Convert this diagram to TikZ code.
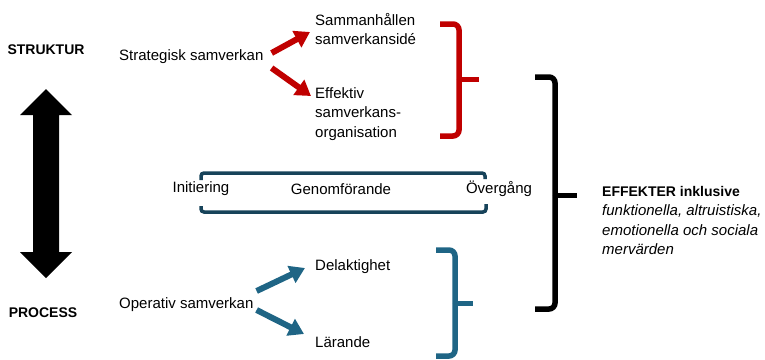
\documentclass[tikz,border=0pt]{standalone}
\usepackage{fontspec}
\setmainfont{Liberation Sans}
\usepackage{xcolor}
\usepackage{tikz}
\usetikzlibrary{arrows.meta}
\definecolor{ink}{HTML}{000000}
\definecolor{red}{HTML}{C00000}
\definecolor{teal}{HTML}{1F6585}
\definecolor{navy}{HTML}{17435A}
\tikzset{
  lbl/.style={text=ink, font=\fontsize{15}{19.5}\selectfont, inner sep=0pt, anchor=west, align=left},
  head/.style={text=ink, font=\fontsize{14}{18}\selectfont\bfseries, inner sep=0pt},
  rarrow/.style={draw=red, line width=6pt, -{Triangle[width=18pt,length=15pt]}},
  tarrow/.style={draw=teal, line width=6pt, -{Triangle[width=18pt,length=15pt]}},
  bigarrow/.style={fill=ink},
  rbrace/.style={draw=red, line width=5.5pt, rounded corners=6pt},
  tbrace/.style={draw=teal, line width=5.5pt, rounded corners=6pt},
  kbrace/.style={draw=ink, line width=5.5pt, rounded corners=6pt},
  phase/.style={draw=navy, line width=3.5pt, rounded corners=3pt}
}
\begin{document}
\begin{tikzpicture}[x=1pt, y=-1pt]
  \useasboundingbox (0,0) rectangle (765,359);

  % levels
  \node[head] (struktur) at (46,50) {STRUKTUR};
  \node[head] (process) at (43,313) {PROCESS};
  \fill[bigarrow] (46,89) -- (72,115) -- (59,115) -- (59,252) -- (72,252) -- (46,278)
    -- (20,252) -- (33,252) -- (33,115) -- (20,115) -- cycle;

  % strategic side
  \node[lbl] (strat) at (119,57) {Strategisk samverkan};
  \node[lbl] (samman) at (315,29) {Sammanhållen\\samverkansidé};
  \node[lbl] (effekt) at (315,114) {Effektiv\\samverkans-\\organisation};
  \draw[rarrow] ([xshift=8pt,yshift=4pt]strat.east) -- ([xshift=-5pt,yshift=-3pt]samman.west);
  \draw[rarrow] ([xshift=8pt,yshift=-11pt]strat.east) -- ([xshift=-4pt,yshift=18pt]effekt.west);
  \draw[rbrace] (440,24) -- (459,24) -- (459,79);
  \draw[rbrace] (459,79) -- (459,136) -- (440,136);
  \draw[draw=red, line width=5pt] (459,79) -- (479,79);

  % phases
  \node[lbl, anchor=center] (init) at (201,189) {Initiering};
  \node[lbl, anchor=center] (genom) at (341,189) {Genomförande};
  \node[lbl, anchor=center] (overg) at (499,189) {Övergång};
  \draw[phase] (201,180) -- (201,173) -- (485,173) -- (485,179);
  \draw[phase] (201,206) -- (201,212) -- (486,212) -- (486,204);

  % operative side
  \node[lbl] (oper) at (119,305) {Operativ samverkan};
  \node[lbl] (delak) at (315,267) {Delaktighet};
  \node[lbl] (larande) at (315,342) {Lärande};
  \draw[tarrow] ([xshift=3pt,yshift=14pt]oper.east) -- ([xshift=-10pt,yshift=-1pt]delak.west);
  \draw[tarrow] ([xshift=3pt,yshift=-5pt]oper.east) -- ([xshift=-11pt,yshift=8pt]larande.west);
  \draw[tbrace] (436,250) -- (455,250) -- (455,303);
  \draw[tbrace] (455,303) -- (455,356) -- (436,356);
  \draw[draw=teal, line width=5pt] (455,303) -- (473,303);

  % effects
  \draw[kbrace] (535,77) -- (555,77) -- (555,195);
  \draw[kbrace] (555,195) -- (555,309) -- (535,309);
  \draw[draw=ink, line width=5pt] (555,195) -- (577,195);
  \node[lbl, anchor=north west] (effekter) at (602,186)
    {{\fontsize{14}{18}\selectfont\bfseries EFFEKTER inklusive}\\
     \itshape funktionella, altruistiska,\\
     \itshape emotionella och sociala\\
     \itshape mervärden};
\end{tikzpicture}
\end{document}
